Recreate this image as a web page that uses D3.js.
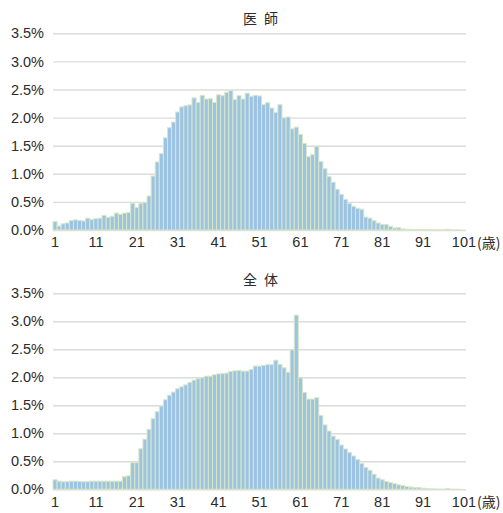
<!DOCTYPE html>
<html>
<head>
<meta charset="utf-8">
<script src="https://cdn.jsdelivr.net/npm/d3@7"></script>
<style>
  html, body { margin: 0; padding: 0; background: #ffffff; }
  svg text { font-family: "Liberation Sans", Arial, sans-serif; fill: #2b2b2b; }
  .title { font-family: "Noto Sans CJK JP", "Noto Sans CJK SC", sans-serif; }
</style>
</head>
<body>
<svg id="chart" width="503" height="513"></svg>
<script>
// ---- data ----
const ages = d3.range(1, 102);
const xTickLabels = [1, 11, 21, 31, 41, 51, 61, 71, 81, 91, 101];
const yTicks = [0, 0.5, 1.0, 1.5, 2.0, 2.5, 3.0, 3.5];
const unitLabel = "(歳)";
const titles = ["医 師", "全 体"];

const doctorValues = [
  0.15, 0.07, 0.11, 0.125, 0.17, 0.18, 0.17, 0.16, 0.21, 0.185,
  0.20, 0.21, 0.26, 0.225, 0.245, 0.30, 0.28, 0.30, 0.31, 0.475,
  0.40, 0.47, 0.49, 0.605, 0.96, 1.21, 1.36, 1.64, 1.82, 1.92,
  2.10, 2.19, 2.21, 2.225, 2.35, 2.27, 2.395, 2.33, 2.335, 2.27,
  2.405, 2.39, 2.45, 2.48, 2.32, 2.39, 2.33, 2.435, 2.38, 2.395,
  2.385, 2.23, 2.265, 2.17, 2.09, 2.23, 1.995, 2.01, 1.80, 1.83,
  1.70, 1.54, 1.305, 1.34, 1.49, 1.22, 1.09, 0.95, 0.85, 0.725,
  0.635, 0.545, 0.47, 0.42, 0.385, 0.37, 0.23, 0.21, 0.165, 0.125,
  0.097, 0.095, 0.065, 0.035, 0.04, 0.02, 0.013, 0.01, 0.008, 0.007,
  0.006, 0.005, 0.004, 0.003, 0.003, 0.002, 0.012, 0.002, 0.001, 0.001, 0.0
];

const allValues = [
  0.17, 0.145, 0.135, 0.135, 0.145, 0.145, 0.14, 0.135, 0.135, 0.145,
  0.145, 0.145, 0.145, 0.145, 0.145, 0.145, 0.145, 0.225, 0.24, 0.475,
  0.475, 0.725, 0.895, 1.07, 1.26, 1.385, 1.485, 1.60, 1.68, 1.735,
  1.795, 1.83, 1.865, 1.91, 1.95, 1.975, 1.99, 2.02, 2.02, 2.045,
  2.06, 2.065, 2.075, 2.105, 2.115, 2.12, 2.11, 2.11, 2.14, 2.20,
  2.20, 2.21, 2.225, 2.225, 2.305, 2.23, 2.17, 2.09, 2.49, 3.11,
  1.99, 1.73, 1.61, 1.61, 1.635, 1.32, 1.15, 1.04, 0.95, 0.89,
  0.79, 0.72, 0.655, 0.595, 0.53, 0.46, 0.39, 0.34, 0.27, 0.20,
  0.17, 0.14, 0.12, 0.10, 0.08, 0.065, 0.05, 0.04, 0.03, 0.03,
  0.02, 0.012, 0.008, 0.006, 0.004, 0.003, 0.012, 0.002, 0.001, 0.001, 0.0
];

// ---- layout ----
const svg = d3.select("#chart");
const plotLeft = 53, plotRight = 466;
const panels = [
  { title: titles[0], values: doctorValues, top: 33.3, bottom: 230, titleY: 24 },
  { title: titles[1], values: allValues, top: 293.3, bottom: 489.3, titleY: 285 }
];

const x = d3.scaleBand().domain(ages).range([plotLeft, plotRight]).padding(0);

panels.forEach(p => {
  const y = d3.scaleLinear().domain([0, 3.5]).range([p.bottom, p.top]);
  const g = svg.append("g");

  // gridlines + y labels
  const yAxis = d3.axisLeft(y)
    .tickValues(yTicks)
    .tickFormat(d => d.toFixed(1) + "%")
    .tickSize(-(plotRight - plotLeft))
    .tickPadding(9);
  const ya = g.append("g").attr("transform", `translate(${plotLeft},0)`).call(yAxis);
  ya.select(".domain").remove();
  ya.selectAll(".tick line").attr("stroke", "#dcdcdc").attr("stroke-width", 1.4);
  ya.selectAll(".tick text").attr("font-size", 14.5).attr("fill", "#2b2b2b")
    .style("font-family", "'Liberation Sans', Arial, sans-serif");

  // bars
  g.append("g").selectAll("rect")
    .data(ages.map((a, i) => ({ age: a, v: p.values[i] })))
    .join("rect")
    .attr("x", d => x(d.age))
    .attr("width", x.bandwidth())
    .attr("y", d => y(d.v))
    .attr("height", d => y(0) - y(d.v))
    .attr("fill", "#9cc2e4")
    .attr("stroke", "#d7e8c6")
    .attr("stroke-width", 1);

  // x axis labels
  const xAxis = d3.axisBottom(x)
    .tickValues(xTickLabels)
    .tickSize(0)
    .tickPadding(7);
  const xa = g.append("g").attr("transform", `translate(0,${p.bottom})`).call(xAxis);
  xa.select(".domain").remove();
  xa.selectAll(".tick text").attr("font-size", 14.5).attr("fill", "#2b2b2b")
    .style("font-family", "'Liberation Sans', Arial, sans-serif");

  // unit label
  g.append("text")
    .attr("x", x(101) + x.bandwidth() / 2 + 13)
    .attr("y", p.bottom + 18)
    .attr("font-size", 14)
    .attr("class", "title")
    .text(unitLabel);

  // title (two characters, spaced apart)
  const chars = p.title.split(" ");
  const cx = (plotLeft + plotRight) / 2 + 1;
  chars.forEach((c, i) => {
    g.append("text")
      .attr("class", "title")
      .attr("x", cx + (i === 0 ? -10.5 : 10.5))
      .attr("y", p.titleY)
      .attr("text-anchor", "middle")
      .attr("font-size", 14)
      .text(c);
  });
});
</script>
</body>
</html>
